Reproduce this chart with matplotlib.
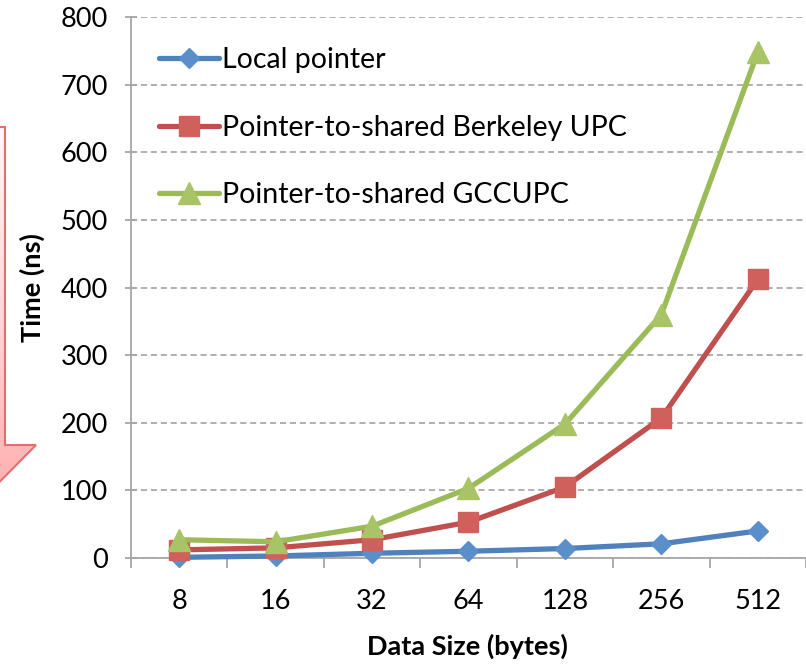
"""Pointer access time vs data size (UPC), Excel-style line chart."""

import matplotlib

matplotlib.use("Agg")
import matplotlib.pyplot as plt  # noqa: E402
import numpy as np  # noqa: E402
from matplotlib.colors import LinearSegmentedColormap  # noqa: E402
from matplotlib.patches import Polygon  # noqa: E402
from matplotlib.ticker import FixedLocator, MultipleLocator  # noqa: E402

# --- data ---
SIZES = ["8", "16", "32", "64", "128", "256", "512"]
LOCAL = [1, 3, 7, 10, 14, 21, 40]
BERKELEY = [12, 15, 27, 53, 105, 207, 412]
GCCUPC = [27, 24, 47, 103, 198, 360, 748]

LABELS = ["Local pointer", "Pointer-to-shared Berkeley UPC", "Pointer-to-shared GCCUPC"]
COLORS = ["#4F81BD", "#C0504D", "#9BBB59"]
MARKER_FACES = ["#5B8FCB", "#D0605C", "#A9C466"]

W, H = 806, 664
plt.rcParams["font.family"] = ["Lato", "DejaVu Sans"]

fig = plt.figure(figsize=(W / 100, H / 100), dpi=100)

# Pink down-arrow partially visible on the left edge (pixel coords, y down).
bg = fig.add_axes([0, 0, 1, 1], zorder=0)
bg.set_xlim(0, W)
bg.set_ylim(H, 0)
bg.axis("off")
arrow_px = [(-85, 127), (5, 127), (5, 445), (36, 445), (-40, 522), (-116, 445), (-85, 445)]
grad = np.linspace(0, 1, 256).reshape(-1, 1)
pink = LinearSegmentedColormap.from_list("pink", ["#FFF8F8", "#FFD6D6", "#FFA8A8"])
img = bg.imshow(grad, cmap=pink, extent=[-120, 40, 522, 127], aspect="auto", zorder=1)
shape = Polygon(arrow_px, closed=True, facecolor="none", edgecolor="#E07070", linewidth=1.5, zorder=2)
bg.add_patch(shape)
img.set_clip_path(shape)

ax = fig.add_axes([131 / W, (H - 558) / H, (806 - 131) / W, (558 - 17) / H], zorder=1)
ax.patch.set_alpha(0)

x = np.arange(len(SIZES))
series = [LOCAL, BERKELEY, GCCUPC]
markers = ["D", "s", "^"]
sizes = [10.5, 14, 15.5]
for i, (vals, lab, col, face, mk, ms) in enumerate(zip(series, LABELS, COLORS, MARKER_FACES, markers, sizes)):
    ax.plot(x, vals, color=col, linewidth=3.8, marker=mk, markersize=ms,
            markerfacecolor=face, markeredgecolor=face, label=lab, zorder=3 + i,
            solid_capstyle="round", clip_on=False)

ax.set_xlim(-0.5, len(SIZES) - 0.5)
ax.set_ylim(0, 800)
ax.yaxis.set_major_locator(MultipleLocator(100))
ax.set_xticks(x)
ax.set_xticklabels(SIZES)
ax.xaxis.set_minor_locator(FixedLocator(np.arange(-0.5, len(SIZES), 1)))

ax.grid(axis="y", linestyle=(0, (4, 2.5)), color="#9A9A9A", linewidth=1.1)
for side in ("top", "right"):
    ax.spines[side].set_visible(False)
for side in ("left", "bottom"):
    ax.spines[side].set_color("#A6A6A6")
    ax.spines[side].set_linewidth(1.3)

ax.tick_params(axis="x", which="major", length=0, pad=22, labelsize=19.5)
ax.tick_params(axis="x", which="minor", length=7, width=1.3, color="#A6A6A6", direction="out")
ax.tick_params(axis="y", length=9, width=1.3, color="#A6A6A6", direction="inout", pad=12, labelsize=19.5)

ax.set_xlabel("Data Size (bytes)", fontsize=19.5, fontweight="bold")
ax.set_ylabel("Time (ns)", fontsize=19.5, fontweight="bold")
ax.xaxis.set_label_coords(0.499, -0.14)
ax.yaxis.set_label_coords(-0.128, 0.5)

ax.legend(loc="upper left", bbox_to_anchor=(0.025, 0.965), frameon=False, fontsize=20.5,
          handlelength=2.1, handletextpad=0.1, labelspacing=1.45, borderaxespad=0)

fig.savefig("out.png", dpi=100)
